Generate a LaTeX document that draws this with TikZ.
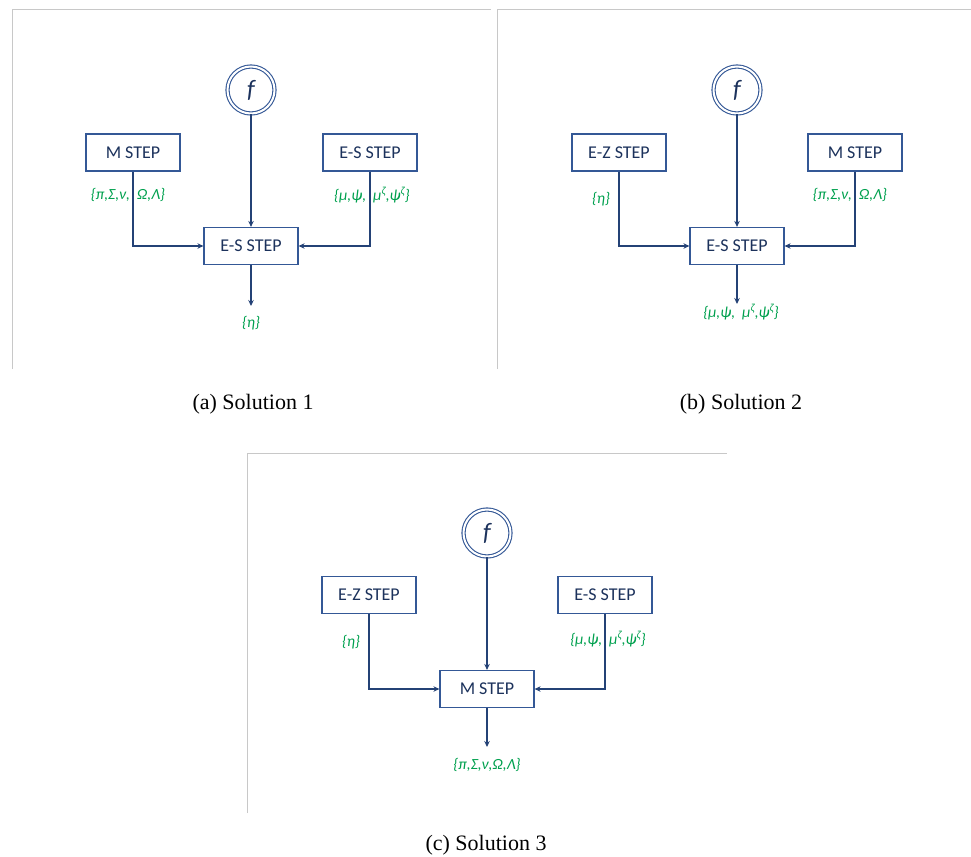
\documentclass[tikz,border=0pt]{standalone}
\usepackage{fontspec}
\setmainfont{Liberation Serif}
\newfontfamily\carlito{Carlito}
\usetikzlibrary{arrows.meta}
\definecolor{boxc}{RGB}{52,88,150}
\definecolor{linec}{RGB}{36,66,118}
\definecolor{navyc}{RGB}{28,50,92}
\definecolor{greenc}{RGB}{0,160,78}
\definecolor{framec}{RGB}{200,200,200}
\tikzset{
  stepbox/.style={draw=boxc, line width=1.2pt, fill=white, minimum width=94pt, minimum height=37pt, inner sep=0pt, text=navyc, font=\carlito\fontsize{18}{20}\selectfont},
  fnode/.style={circle, draw=boxc, double=white, double distance=2pt, line width=1.1pt, minimum size=47pt, inner sep=0pt, text=navyc, font=\carlito\itshape\fontsize{25}{27}\selectfont},
  conn/.style={draw=linec, line width=1.8pt, -{Stealth[length=6pt,width=5.5pt]}},
  lab/.style={text=greenc, inner sep=0pt, font=\carlito\itshape\fontsize{15.5}{17}\selectfont},
  framel/.style={draw=framec, line width=1pt},
  captext/.style={inner sep=0pt, font=\fontsize{22}{26}\selectfont}
}
\begin{document}
\begin{tikzpicture}[x=1pt,y=-1pt]
\useasboundingbox (0,0) rectangle (971,856);
% frames
\draw[framel] (12,369) -- (12,10) -- (491,10);
\draw[framel] (497,369) -- (497,10) -- (971,10);
\draw[framel] (247,813) -- (247,453) -- (727,453);

% ---------- Panel (a)
\node[fnode] (fa) at (251,90) {f};
\node[stepbox] (ma) at (133,152.5) {M STEP};
\node[stepbox] (esra) at (370,152.5) {E-S STEP};
\node[stepbox] (esa) at (251,246) {E-S STEP};
\coordinate (outa) at (251,306);
\node[lab] (la1) at (128,195) {\{π,Σ,ν,\ \ Ω,Λ\}};
\node[lab] (la2) at (372,195) {\{μ,ψ,\ \ μ\textsuperscript{ζ},ψ\textsuperscript{ζ}\}};
\node[lab] (la3) at (251,323) {\{η\}};
\draw[conn] (fa) -- (esa.north);
\draw[conn] (ma.south) |- (esa.west);
\draw[conn] (esra.south) |- (esa.east);
\draw[conn] (esa.south) -- (outa);
\node[captext] (capa) at (253,404) {(a) Solution 1};

% ---------- Panel (b)
\node[fnode] (fb) at (737,90) {f};
\node[stepbox] (ezb) at (619,152.5) {E-Z STEP};
\node[stepbox] (mb) at (855,152.5) {M STEP};
\node[stepbox] (esb) at (737,246) {E-S STEP};
\coordinate (outb) at (737,304);
\node[lab] (lb1) at (601,199) {\{η\}};
\node[lab] (lb2) at (850,195) {\{π,Σ,ν,\ \ Ω,Λ\}};
\node[lab] (lb3) at (741,312) {\{μ,ψ,\ \ μ\textsuperscript{ζ},ψ\textsuperscript{ζ}\}};
\draw[conn] (fb) -- (esb.north);
\draw[conn] (ezb.south) |- (esb.west);
\draw[conn] (mb.south) |- (esb.east);
\draw[conn] (esb.south) -- (outb);
\node[captext] (capb) at (741,404) {(b) Solution 2};

% ---------- Panel (c)
\node[fnode] (fc) at (487,533) {f};
\node[stepbox] (ezc) at (369,595) {E-Z STEP};
\node[stepbox] (esc) at (605,595) {E-S STEP};
\node[stepbox] (mc) at (487,689) {M STEP};
\coordinate (outc) at (487,747);
\node[lab] (lc1) at (351,642) {\{η\}};
\node[lab] (lc2) at (608,639) {\{μ,ψ,\ \ μ\textsuperscript{ζ},ψ\textsuperscript{ζ}\}};
\node[lab] (lc3) at (487,765) {\{π,Σ,ν,Ω,Λ\}};
\draw[conn] (fc) -- (mc.north);
\draw[conn] (ezc.south) |- (mc.west);
\draw[conn] (esc.south) |- (mc.east);
\draw[conn] (mc.south) -- (outc);
\node[captext] (capc) at (486,845) {(c) Solution 3};
\end{tikzpicture}
\end{document}
